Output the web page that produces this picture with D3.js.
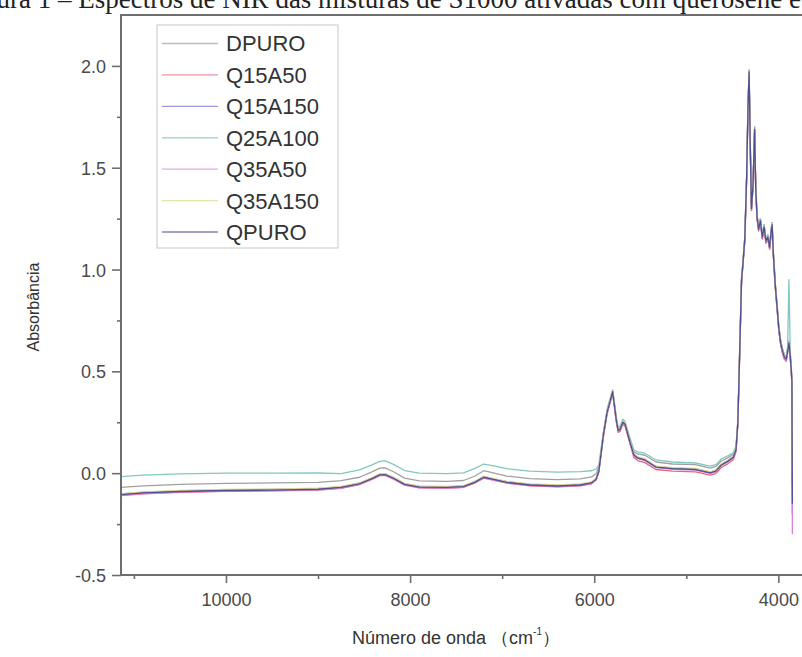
<!DOCTYPE html>
<html><head><meta charset="utf-8">
<script src="https://cdn.jsdelivr.net/npm/d3@7"></script>
<style>body{margin:0;background:#fff}svg{display:block}</style>
</head><body>
<svg id="c" width="802" height="657"></svg>
<script>
const wavenumbers = [11140,10900,10500,10000,9500,9000,8750,8550,8420,8330,8270,8180,8060,7900,7600,7420,7300,7200,7120,6950,6700,6400,6150,6030,5980,5950,5900,5860,5830,5800,5780,5760,5740,5720,5690,5665,5640,5610,5570,5530,5450,5330,5150,4900,4740,4680,4620,4550,4490,4460,4440,4420,4400,4385,4365,4345,4330,4318,4305,4292,4275,4258,4246,4232,4215,4195,4175,4155,4135,4115,4095,4078,4068,4055,4035,4015,3995,3975,3955,3935,3915,3900,3885,3872,3862,3853,3848];

const DPURO = [-0.070,-0.062,-0.055,-0.050,-0.048,-0.045,-0.037,-0.020,0.005,0.025,0.026,0.007,-0.024,-0.038,-0.040,-0.036,-0.015,0.012,0.004,-0.014,-0.027,-0.032,-0.028,-0.018,-0.003,0.030,0.200,0.305,0.355,0.395,0.335,0.265,0.218,0.222,0.255,0.245,0.208,0.160,0.105,0.095,0.088,0.055,0.045,0.042,0.025,0.033,0.060,0.075,0.092,0.128,0.255,0.590,0.940,1.020,1.140,1.440,1.780,1.940,1.580,1.290,1.410,1.670,1.390,1.250,1.190,1.230,1.150,1.200,1.130,1.150,1.100,1.180,1.210,1.070,0.920,0.810,0.700,0.630,0.590,0.560,0.550,0.590,0.630,0.570,0.510,0.440,-0.070];
const Q15A50 = [-0.110,-0.101,-0.094,-0.089,-0.087,-0.083,-0.074,-0.056,-0.032,-0.012,-0.011,-0.029,-0.059,-0.072,-0.074,-0.070,-0.049,-0.024,-0.032,-0.049,-0.062,-0.067,-0.062,-0.052,-0.034,0.005,0.180,0.290,0.340,0.390,0.320,0.250,0.200,0.205,0.240,0.230,0.190,0.140,0.078,0.062,0.052,0.018,0.010,0.006,-0.010,-0.002,0.028,0.046,0.066,0.105,0.240,0.590,0.940,1.020,1.140,1.440,1.790,1.960,1.590,1.290,1.410,1.680,1.390,1.250,1.190,1.230,1.150,1.200,1.130,1.150,1.100,1.180,1.210,1.070,0.920,0.810,0.700,0.630,0.590,0.560,0.550,0.590,0.630,0.570,0.510,0.440,-0.050];
const Q15A150 = [-0.102,-0.094,-0.087,-0.082,-0.080,-0.076,-0.067,-0.049,-0.025,-0.005,-0.004,-0.022,-0.052,-0.065,-0.067,-0.063,-0.042,-0.017,-0.025,-0.042,-0.055,-0.060,-0.055,-0.045,-0.027,0.013,0.193,0.303,0.353,0.403,0.333,0.263,0.213,0.218,0.253,0.243,0.203,0.153,0.093,0.078,0.068,0.033,0.025,0.021,0.005,0.013,0.043,0.061,0.081,0.118,0.253,0.603,0.953,1.033,1.153,1.453,1.803,1.980,1.610,1.310,1.430,1.700,1.410,1.270,1.210,1.250,1.170,1.220,1.150,1.170,1.120,1.200,1.230,1.090,0.940,0.830,0.720,0.650,0.610,0.580,0.570,0.610,0.650,0.590,0.530,0.460,-0.200];
const Q25A100 = [-0.017,-0.010,-0.003,0.000,0.000,0.001,-0.002,0.016,0.040,0.058,0.060,0.043,0.013,0.000,-0.002,0.002,0.022,0.045,0.038,0.022,0.010,0.005,0.008,0.012,0.020,0.040,0.205,0.315,0.365,0.410,0.345,0.275,0.225,0.230,0.265,0.255,0.215,0.170,0.115,0.105,0.098,0.065,0.055,0.050,0.035,0.042,0.070,0.085,0.100,0.135,0.265,0.610,0.960,1.040,1.160,1.460,1.810,1.950,1.620,1.320,1.430,1.680,1.410,1.270,1.210,1.250,1.170,1.220,1.150,1.170,1.120,1.200,1.230,1.090,0.940,0.830,0.720,0.650,0.610,0.580,0.570,0.620,0.950,0.620,0.540,0.470,0.200];
const Q35A50 = [-0.108,-0.100,-0.093,-0.088,-0.086,-0.082,-0.073,-0.055,-0.031,-0.011,-0.010,-0.028,-0.058,-0.071,-0.073,-0.069,-0.048,-0.023,-0.031,-0.048,-0.061,-0.066,-0.061,-0.051,-0.033,0.007,0.187,0.297,0.347,0.397,0.327,0.257,0.207,0.212,0.247,0.237,0.197,0.147,0.087,0.072,0.062,0.027,0.019,0.015,-0.001,0.007,0.037,0.055,0.075,0.112,0.247,0.597,0.947,1.027,1.147,1.447,1.797,1.965,1.595,1.295,1.415,1.685,1.395,1.255,1.195,1.235,1.155,1.205,1.135,1.155,1.105,1.185,1.215,1.075,0.925,0.815,0.705,0.635,0.595,0.565,0.555,0.595,0.635,0.575,0.515,0.445,-0.300];
const Q35A150 = [-0.100,-0.092,-0.085,-0.080,-0.078,-0.074,-0.065,-0.047,-0.023,-0.003,-0.002,-0.020,-0.050,-0.063,-0.065,-0.061,-0.040,-0.015,-0.023,-0.040,-0.053,-0.058,-0.053,-0.043,-0.025,0.015,0.195,0.305,0.355,0.405,0.335,0.265,0.215,0.220,0.255,0.245,0.205,0.155,0.095,0.080,0.070,0.035,0.027,0.023,0.007,0.015,0.045,0.063,0.083,0.120,0.255,0.605,0.955,1.035,1.155,1.455,1.805,1.975,1.605,1.305,1.425,1.695,1.405,1.265,1.205,1.245,1.165,1.215,1.145,1.165,1.115,1.195,1.225,1.085,0.935,0.825,0.715,0.645,0.605,0.575,0.565,0.605,0.645,0.585,0.525,0.455,0.000];
const QPURO = [-0.105,-0.097,-0.090,-0.085,-0.083,-0.079,-0.070,-0.052,-0.028,-0.008,-0.007,-0.025,-0.055,-0.068,-0.070,-0.066,-0.045,-0.020,-0.028,-0.045,-0.058,-0.063,-0.058,-0.048,-0.030,0.010,0.190,0.300,0.350,0.400,0.330,0.260,0.210,0.215,0.250,0.240,0.200,0.150,0.090,0.075,0.065,0.030,0.022,0.018,0.002,0.010,0.040,0.058,0.078,0.115,0.250,0.600,0.950,1.030,1.150,1.450,1.800,1.970,1.600,1.300,1.420,1.690,1.400,1.260,1.200,1.240,1.160,1.210,1.140,1.160,1.110,1.190,1.220,1.080,0.930,0.820,0.710,0.640,0.600,0.570,0.560,0.600,0.640,0.580,0.520,0.450,-0.150];

const seriesNames = ["DPURO","Q15A50","Q15A150","Q25A100","Q35A50","Q35A150","QPURO"];
const seriesValues = [DPURO,Q15A50,Q15A150,Q25A100,Q35A50,Q35A150,QPURO];
const seriesColors = ["#a0a0a0","#e06878","#7070d0","#80c8c0","#e080e0","#d8d890","#505090"];
const xTickValues = [10000,8000,6000,4000];
const xMinorTicks = [11000,9000,7000,5000];
const yTickValues = [-0.5,0.0,0.5,1.0,1.5,2.0];
const yMinorTicks = [-0.25,0.25,0.75,1.25,1.75];
const xTitle = "Número de onda";
const yTitle = "Absorbância";
const caption = "Figura 1 – Espectros de NIR das misturas de S1000 ativadas com querosene e";

const svg = d3.select("#c");
const L = 121, R = 806, T = 15, B = 575;
const x = d3.scaleLinear().domain([11140, 3700]).range([L, R]);
const y = d3.scaleLinear().domain([-0.5, 2.25]).range([B, T]);
const axisCol = "#6e6e6e";
const font = "'Liberation Sans', Arial, sans-serif";

// caption (partly cut at the top, as in the source page)
svg.append("text").attr("x", 801).attr("y", 8).attr("text-anchor", "end")
  .attr("font-family", "'Liberation Serif','Times New Roman',serif").attr("font-size", 27)
  .attr("fill", "#222").text(caption);

// lines
svg.append("defs").append("clipPath").attr("id","pc")
  .append("rect").attr("x", L).attr("y", T).attr("width", R - L).attr("height", B - T + 60);
const g = svg.append("g").attr("clip-path","url(#pc)");
const line = d3.line().x((d,i)=>x(wavenumbers[i])).y(d=>y(d));
seriesValues.forEach((vals, k) => {
  g.append("path").datum(vals).attr("d", line).attr("fill","none")
    .attr("stroke", seriesColors[k]).attr("stroke-width", 1.3).attr("stroke-linejoin","round");
});

// axes
const fmtY = d => d3.format(".1f")(d).replace("−","-");
const xAxis = svg.append("g").attr("transform", `translate(0,${B})`)
  .call(d3.axisBottom(x).tickValues(xTickValues).tickSize(8).tickPadding(10).tickFormat(d3.format("d")));
const xMinor = svg.append("g").attr("transform", `translate(0,${B})`)
  .call(d3.axisBottom(x).tickValues(xMinorTicks).tickSize(4).tickFormat(""));
const yAxis = svg.append("g").attr("transform", `translate(${L},0)`)
  .call(d3.axisLeft(y).tickValues(yTickValues).tickSize(9).tickPadding(6).tickFormat(fmtY));
const yMinor = svg.append("g").attr("transform", `translate(${L},0)`)
  .call(d3.axisLeft(y).tickValues(yMinorTicks).tickSize(4).tickFormat(""));
[xAxis,xMinor,yAxis,yMinor].forEach(a => {
  a.select(".domain").remove();
  a.selectAll("line").attr("stroke", axisCol).attr("stroke-width", 1.6);
  a.selectAll("text").attr("font-family", font).attr("font-size", 18).attr("fill", "#4a4a4a");
});
yAxis.selectAll("text").attr("dy", "0.36em");
svg.append("line").attr("x1", L).attr("x2", L).attr("y1", T).attr("y2", B).attr("stroke", axisCol).attr("stroke-width", 2);
svg.append("line").attr("x1", L-1).attr("x2", 802).attr("y1", B).attr("y2", B).attr("stroke", axisCol).attr("stroke-width", 2);
svg.append("line").attr("x1", L-1).attr("x2", 802).attr("y1", T).attr("y2", T).attr("stroke", axisCol).attr("stroke-width", 2);

// titles
const xt = svg.append("text").attr("x", 456).attr("y", 644).attr("text-anchor","middle")
  .attr("font-family", font).attr("font-size", 18).attr("fill", "#333");
xt.append("tspan").text(xTitle + " （cm");
xt.append("tspan").attr("font-size", 10).attr("dy", -9).text("-1");
xt.append("tspan").attr("dy", 9).text("）");
svg.append("text").attr("transform", "translate(39,307) rotate(-90)").attr("text-anchor","middle")
  .attr("font-family", font).attr("font-size", 16).attr("fill", "#333").text(yTitle);

// legend
const lg = svg.append("g");
lg.append("rect").attr("x",157).attr("y",25).attr("width",181).attr("height",223)
  .attr("fill","#fff").attr("stroke","#c8c8c8").attr("stroke-width",1);
const ly = d3.scalePoint().domain(seriesNames).range([43.5, 232]);
seriesNames.forEach((n,k) => {
  lg.append("line").attr("x1",162).attr("x2",218).attr("y1",ly(n)).attr("y2",ly(n))
    .attr("stroke", seriesColors[k]).attr("stroke-width",1.3).attr("opacity",0.7);
  lg.append("text").attr("x",226).attr("y",ly(n)).attr("dy","0.36em")
    .attr("font-family", font).attr("font-size", 22).attr("fill","#333").text(n);
});
</script>
</body></html>
